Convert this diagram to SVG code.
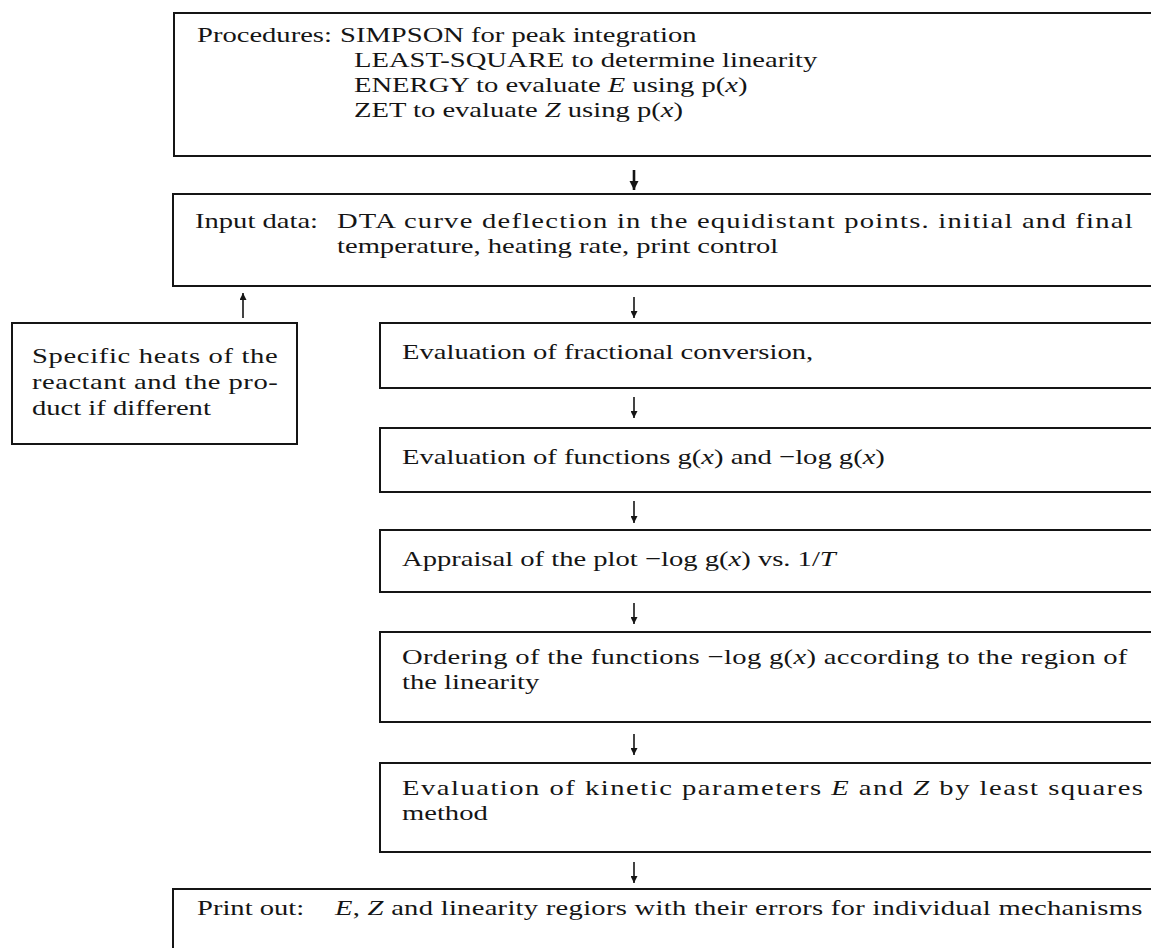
<svg xmlns="http://www.w3.org/2000/svg" width="1151" height="948" viewBox="0 0 1151 948">
<style>
.box{fill:none;stroke:#151515;stroke-width:2}
.t{font-family:"Liberation Serif","Times New Roman",serif;font-size:22px;fill:#151515}
.i{font-style:italic}
.c{fill:none;stroke:#151515;stroke-width:1.6}
.cb{fill:none;stroke:#151515;stroke-width:2.6}
</style>
<defs>
<marker id="ah" viewBox="0 0 10 10" refX="10" refY="5" markerWidth="7" markerHeight="7" markerUnits="userSpaceOnUse" orient="auto"><path d="M0,0 L10,5 L0,10 z" fill="#151515"/></marker>
<marker id="ahb" viewBox="0 0 10 10" refX="10" refY="5" markerWidth="9" markerHeight="10" markerUnits="userSpaceOnUse" orient="auto"><path d="M0,0 L10,5 L0,10 z" fill="#151515"/></marker>
</defs>
<rect width="1151" height="948" fill="#fff"/>

<g id="procedures">
<rect class="box" x="174" y="13" width="1000" height="143"/>
<text class="t" transform="translate(197,42) scale(1.3,1)">Procedures:</text>
<text class="t" transform="translate(340,42) scale(1.3,1)">SIMPSON for peak integration</text>
<text class="t" transform="translate(354,67) scale(1.3,1)">LEAST-SQUARE to determine linearity</text>
<text class="t" transform="translate(354,92) scale(1.3,1)">ENERGY to evaluate <tspan class="i">E</tspan> using p(<tspan class="i">x</tspan>)</text>
<text class="t" transform="translate(354,117) scale(1.3,1)">ZET to evaluate <tspan class="i">Z</tspan> using p(<tspan class="i">x</tspan>)</text>
</g>

<g id="input">
<rect class="box" x="173" y="194" width="1000" height="92"/>
<text class="t" transform="translate(195,228) scale(1.3,1)">Input data:</text>
<text class="t" transform="translate(337,228) scale(1.3,1)" textLength="612" lengthAdjust="spacing">DTA curve deflection in the equidistant points. initial and final</text>
<text class="t" transform="translate(337,253) scale(1.3,1)">temperature, heating rate, print control</text>
</g>

<g id="specific-heats">
<rect class="box" x="12" y="323" width="285" height="121"/>
<text class="t" transform="translate(32,363) scale(1.3,1)" textLength="189" lengthAdjust="spacing">Specific heats of the</text>
<text class="t" transform="translate(32,389) scale(1.3,1)" textLength="189" lengthAdjust="spacing">reactant and the pro-</text>
<text class="t" transform="translate(32,415) scale(1.3,1)">duct if different</text>
</g>

<g id="fractional-conversion">
<rect class="box" x="380" y="323" width="800" height="65"/>
<text class="t" transform="translate(402,359) scale(1.3,1)">Evaluation of fractional conversion,</text>
</g>

<g id="functions">
<rect class="box" x="380" y="428" width="800" height="64"/>
<text class="t" transform="translate(402,464) scale(1.3,1)">Evaluation of functions g(<tspan class="i">x</tspan>) and −log g(<tspan class="i">x</tspan>)</text>
</g>

<g id="appraisal">
<rect class="box" x="380" y="530" width="800" height="62"/>
<text class="t" transform="translate(402,566) scale(1.3,1)">Appraisal of the plot −log g(<tspan class="i">x</tspan>) vs. 1/<tspan class="i">T</tspan></text>
</g>

<g id="ordering">
<rect class="box" x="380" y="632" width="800" height="90"/>
<text class="t" transform="translate(402,664) scale(1.3,1)" textLength="558" lengthAdjust="spacing">Ordering of the functions −log g(<tspan class="i">x</tspan>) according to the region of</text>
<text class="t" transform="translate(402,689) scale(1.3,1)">the linearity</text>
</g>

<g id="kinetic-parameters">
<rect class="box" x="380" y="763" width="800" height="89"/>
<text class="t" transform="translate(402,795) scale(1.3,1)" textLength="570" lengthAdjust="spacing">Evaluation of kinetic parameters <tspan class="i">E</tspan> and <tspan class="i">Z</tspan> by least squares</text>
<text class="t" transform="translate(402,820) scale(1.3,1)">method</text>
</g>

<g id="print-out">
<path class="box" d="M1160,889 H173 V960"/>
<text class="t" transform="translate(197,915) scale(1.3,1)">Print out:</text>
<text class="t" transform="translate(335,915) scale(1.3,1)" textLength="621" lengthAdjust="spacing"><tspan class="i">E</tspan>, <tspan class="i">Z</tspan> and linearity regiors with their errors for individual mechanisms</text>
</g>

<g id="connectors">
<path class="cb" d="M634,170 V190" marker-end="url(#ahb)"/>
<path class="c" d="M634,297 V318" marker-end="url(#ah)"/>
<path class="c" d="M243,318 V293" marker-end="url(#ah)"/>
<path class="c" d="M634,397 V418" marker-end="url(#ah)"/>
<path class="c" d="M634,501 V523" marker-end="url(#ah)"/>
<path class="c" d="M634,603 V624" marker-end="url(#ah)"/>
<path class="c" d="M634,734 V755" marker-end="url(#ah)"/>
<path class="c" d="M634,862 V883" marker-end="url(#ah)"/>
</g>
</svg>
